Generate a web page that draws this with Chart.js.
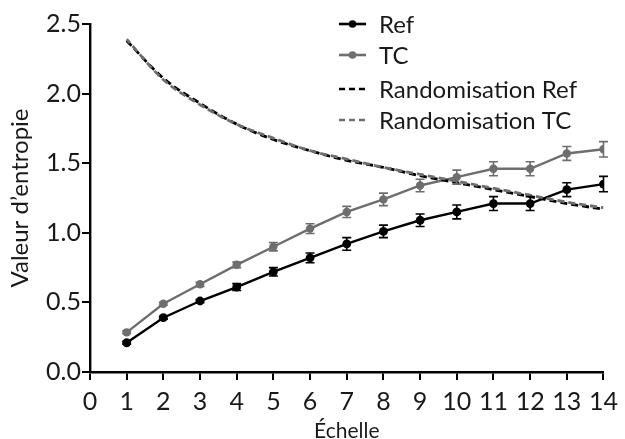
<!DOCTYPE html>
<html>
<head>
<meta charset="utf-8">
<script src="https://cdn.jsdelivr.net/npm/chart.js@4"></script>
<style>
  html, body { margin: 0; padding: 0; background: #fff; }
  #wrap { width: 625px; height: 439px; }
</style>
</head>
<body>
<div id="wrap"><canvas id="myChart"></canvas></div>
<script>
const echelle = [1, 2, 3, 4, 5, 6, 7, 8, 9, 10, 11, 12, 13, 14];
const refValues = [0.21, 0.39, 0.51, 0.61, 0.72, 0.82, 0.92, 1.01, 1.09, 1.15, 1.21, 1.21, 1.31, 1.35];
const refErrors = [0.01, 0.01, 0.01, 0.025, 0.03, 0.035, 0.045, 0.045, 0.045, 0.05, 0.05, 0.05, 0.05, 0.055];
const tcValues = [0.285, 0.49, 0.63, 0.77, 0.9, 1.03, 1.15, 1.24, 1.34, 1.4, 1.46, 1.46, 1.57, 1.6];
const tcErrors = [0.01, 0.01, 0.015, 0.02, 0.03, 0.035, 0.04, 0.045, 0.045, 0.05, 0.05, 0.05, 0.05, 0.055];
const randRefValues = [2.38, 2.11, 1.93, 1.78, 1.67, 1.59, 1.52, 1.47, 1.41, 1.36, 1.31, 1.26, 1.21, 1.17];
const randTcValues = [2.39, 2.1, 1.92, 1.78, 1.68, 1.59, 1.53, 1.47, 1.42, 1.37, 1.32, 1.27, 1.22, 1.18];
const xTicks = [0, 1, 2, 3, 4, 5, 6, 7, 8, 9, 10, 11, 12, 13, 14];
const yTicks = [0, 0.5, 1.0, 1.5, 2.0, 2.5];

const BLACK = "#000000";
const GRAY = "#6e6e6e";
const TEXT = "#1a1a1a";
const FONT = "Lato, 'Open Sans', sans-serif";

const toPoints = (vals) => vals.map((v, i) => ({ x: echelle[i], y: v }));

const errorBars = {
  id: "errorBars",
  afterDatasetsDraw(chart) {
    const { ctx, scales: { x, y } } = chart;
    chart.data.datasets.forEach((ds) => {
      if (!ds.errors) return;
      ctx.save();
      ctx.strokeStyle = ds.borderColor;
      ctx.lineWidth = 1.6;
      ds.data.forEach((p, i) => {
        const e = ds.errors[i];
        const px = x.getPixelForValue(p.x);
        const top = y.getPixelForValue(p.y + e);
        const bot = y.getPixelForValue(p.y - e);
        ctx.beginPath();
        ctx.moveTo(px, top);
        ctx.lineTo(px, bot);
        ctx.moveTo(px - 4.5, top);
        ctx.lineTo(px + 4.5, top);
        ctx.moveTo(px - 4.5, bot);
        ctx.lineTo(px + 4.5, bot);
        ctx.stroke();
      });
      ctx.restore();
    });
  },
};

const sideLegend = {
  id: "sideLegend",
  afterDraw(chart) {
    const { ctx } = chart;
    const items = [
      { label: "Ref", color: BLACK, dash: [], dot: true },
      { label: "TC", color: GRAY, dash: [], dot: true },
      { label: "Randomisation Ref", color: BLACK, dash: [6, 4], dot: false },
      { label: "Randomisation TC", color: GRAY, dash: [6, 4], dot: false },
    ];
    const x0 = 339, x1 = 366, tx = 379;
    const rows = [24, 55, 89, 120];
    ctx.save();
    items.forEach((it, i) => {
      const yy = rows[i];
      ctx.strokeStyle = it.color;
      ctx.lineWidth = 2.6;
      ctx.setLineDash(it.dash);
      ctx.beginPath();
      ctx.moveTo(x0, yy);
      ctx.lineTo(x1, yy);
      ctx.stroke();
      ctx.setLineDash([]);
      if (it.dot) {
        ctx.fillStyle = it.color;
        ctx.beginPath();
        ctx.arc((x0 + x1) / 2, yy, 3.8, 0, Math.PI * 2);
        ctx.fill();
      }
      ctx.fillStyle = TEXT;
      ctx.font = "24px " + FONT;
      ctx.textBaseline = "middle";
      ctx.textAlign = "left";
      ctx.fillText(it.label, tx, yy + 1);
    });
    ctx.restore();
  },
};

const ctx = document.getElementById("myChart").getContext("2d");
const myChart = new Chart(ctx, {
  type: "line",
  data: {
    datasets: [
      {
        label: "Randomisation TC",
        data: toPoints(randTcValues),
        borderColor: GRAY,
        borderWidth: 2.8,
        borderDash: [7, 4],
        borderDashOffset: 2,
        pointRadius: 0,
        cubicInterpolationMode: "monotone",
      },
      {
        label: "Randomisation Ref",
        data: toPoints(randRefValues),
        borderColor: BLACK,
        borderWidth: 2.8,
        borderDash: [7, 4],
        pointRadius: 0,
        cubicInterpolationMode: "monotone",
      },
      {
        label: "TC",
        data: toPoints(tcValues),
        errors: tcErrors,
        borderColor: GRAY,
        backgroundColor: GRAY,
        borderWidth: 2.4,
        pointRadius: 4.2,
        pointBackgroundColor: GRAY,
        pointBorderWidth: 0,
      },
      {
        label: "Ref",
        data: toPoints(refValues),
        errors: refErrors,
        borderColor: BLACK,
        backgroundColor: BLACK,
        borderWidth: 2.4,
        pointRadius: 4.4,
        pointBackgroundColor: BLACK,
        pointBorderWidth: 0,
      },
    ],
  },
  options: {
    responsive: true,
    maintainAspectRatio: false,
    animation: false,
    layout: { padding: { top: 24, right: 18, left: 0, bottom: 0 } },
    plugins: {
      legend: { display: false },
      tooltip: { enabled: false },
    },
    scales: {
      x: {
        type: "linear",
        min: 0,
        max: 14,
        afterBuildTicks: (scale) => {
          scale.ticks = xTicks.map((v) => ({ value: v }));
        },
        afterFit: (scale) => {
          scale.height = 67;
        },
        grid: { drawOnChartArea: false, color: BLACK, lineWidth: 2, tickLength: 8 },
        border: { color: BLACK, width: 2.4 },
        ticks: {
          color: TEXT,
          font: { family: FONT, size: 25 },
          padding: 7,
          maxRotation: 0,
          autoSkip: false,
        },
        title: {
          display: true,
          text: "Échelle",
          color: TEXT,
          font: { family: FONT, size: 21 },
          padding: { top: 0, bottom: -5 },
        },
      },
      y: {
        min: 0,
        max: 2.5,
        afterBuildTicks: (scale) => {
          scale.ticks = yTicks.map((v) => ({ value: v }));
        },
        afterFit: (scale) => {
          scale.width = 90;
        },
        grid: { drawOnChartArea: false, color: BLACK, lineWidth: 2, tickLength: 8 },
        border: { color: BLACK, width: 2.4 },
        ticks: {
          color: TEXT,
          font: { family: FONT, size: 25 },
          padding: 1,
          callback: (v) => Number(v).toFixed(1),
        },
        title: {
          display: true,
          text: "Valeur d’entropie",
          color: TEXT,
          font: { family: FONT, size: 24 },
          padding: { top: 6, bottom: 0 },
        },
      },
    },
  },
  plugins: [errorBars, sideLegend],
});
</script>
</body>
</html>
